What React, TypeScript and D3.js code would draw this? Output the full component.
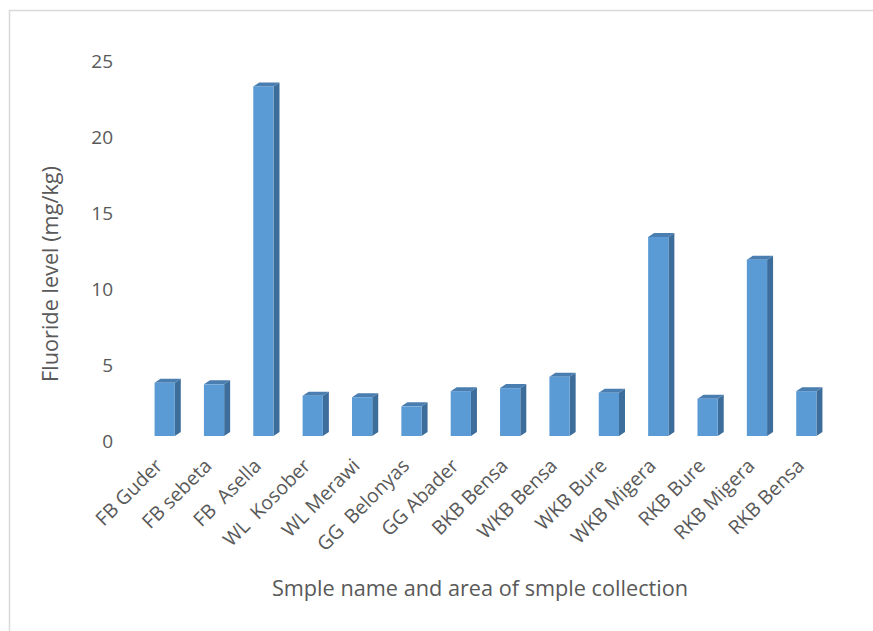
import React from "react";
import * as d3 from "d3";

const categories = [
  "FB Guder", "FB sebeta", "FB  Asella", "WL  Kosober", "WL Merawi", "GG  Belonyas",
  "GG Abader", "BKB Bensa", "WKB Bensa", "WKB Bure", "WKB Migera", "RKB Bure",
  "RKB Migera", "RKB Bensa",
];
const fluoride = [3.5, 3.4, 23.0, 2.65, 2.55, 1.95, 2.95, 3.15, 3.9, 2.85, 13.1, 2.45, 11.6, 2.95];
const yTicks = [0, 5, 10, 15, 20, 25];

const W = 873;
const H = 631;
const FONT = "'Open Sans', Lato, sans-serif";
const TXT = "#595959";

export default function App() {
  const x = d3.scaleBand<string>().domain(categories).range([140, 831]).paddingInner(0.59).paddingOuter(0.295);
  const y = d3.scaleLinear().domain([0, 25]).range([436, 56]);
  const dx = 6;
  const dy = 4;
  const bw = x.bandwidth();
  return (
    <svg width={W} height={H} style={{ position: "absolute", left: 0, top: 0, background: "#fff" }}>
      <rect x={0} y={0} width={W} height={H} fill="#fff" />
      <path d={`M9.5,${H} V10.5 H${W}`} fill="none" stroke="#d9d9d9" strokeWidth={1.5} />
      {yTicks.map((t) => (
        <text key={t} x={113} y={y(t) + 5} dy="0.35em" textAnchor="end" fontFamily={FONT} fontSize={19} fill={TXT}>
          {t}
        </text>
      ))}
      {categories.map((c, i) => {
        const x0 = x(c)!;
        const x1 = x0 + bw;
        const yt = y(fluoride[i]);
        const yb = y(0);
        return (
          <g key={c}>
            <polygon points={`${x1},${yt} ${x1 + dx},${yt - dy} ${x1 + dx},${yb - dy} ${x1},${yb}`} fill="#3d6d9b" />
            <polygon points={`${x0},${yt} ${x0 + dx},${yt - dy} ${x1 + dx},${yt - dy} ${x1},${yt}`} fill="#4a7db0" />
            <rect x={x0} y={yt} width={bw} height={yb - yt} fill="#5b9bd5" />
          </g>
        );
      })}
      {categories.map((c) => {
        const cx = x(c)! + bw / 2 - 1;
        const ly = 467;
        return (
          <text key={c} x={cx} y={ly} textAnchor="end" transform={`rotate(-45 ${cx} ${ly})`} fontFamily={FONT} fontSize={19.5} fill={TXT} style={{ whiteSpace: "pre" }}>
            {c}
          </text>
        );
      })}
      <text x={480} y={596} textAnchor="middle" fontFamily={FONT} fontSize={21.7} fill={TXT}>
        Smple name and area of smple collection
      </text>
      <text transform="translate(58 274) rotate(-90)" textAnchor="middle" fontFamily={FONT} fontSize={21.7} fill={TXT}>
        Fluoride level (mg/kg)
      </text>
    </svg>
  );
}
